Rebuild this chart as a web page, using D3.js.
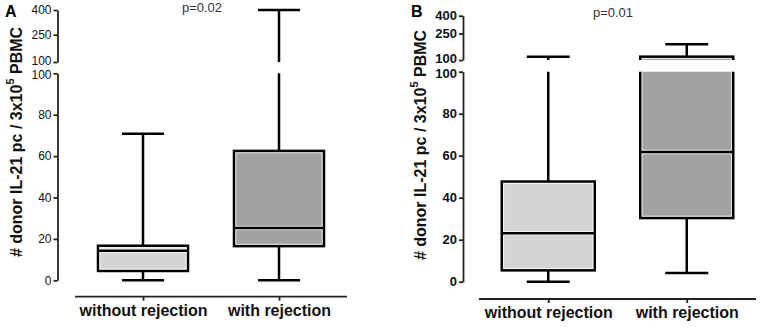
<!DOCTYPE html>
<html>
<head>
<meta charset="utf-8">
<script src="https://cdn.jsdelivr.net/npm/d3@7"></script>
<style>
  body { margin: 0; background: #fff; }
  svg { display: block; font-family: Arial, "Liberation Sans", sans-serif; }
</style>
</head>
<body>
<div id="chart"></div>
<script>
// ---- data ----
var categories = ['without rejection', 'with rejection'];
var panelLetters = ['A', 'B'];
var pLabels = ['p=0.02', 'p=0.01'];
var lowerTicks = [0, 20, 40, 60, 80, 100];
var upperTicks = [100, 250, 400];

// panel A
var minA = [0, 0];
var q1A = [4.5, 16.5];
var medianA = [14.3, 25.3];
var q3A = [16.7, 62.5];
var maxA = [70.8, 400];

// panel B
var minB = [0, 4.2];
var q1B = [5.4, 30.3];
var medianB = [23.1, 61.8];
var q3B = [47.7, 119];
var maxB = [119, 189];

var boxColors = ['#d4d4d4', '#a2a2a2'];

// layout of each panel (pixels)
var panels = [
  { letter: panelLetters[0], p: pLabels[0], min: minA, q1: q1A, med: medianA, q3: q3A, max: maxA,
    axisX: 57.5, lowerRange: [280.3, 73.3], upperRange: [62, 34.7, 10], xRange: [75, 347], xAxisY: 296.7,
    letterPos: [5, 17], pPos: [202, 12], titleX: 15.5, titleY: 142,
    tickFont: { size: 12, weight: 'normal' }, boxHalf: 45, capHalf: 21 },
  { letter: panelLetters[1], p: pLabels[1], min: minB, q1: q1B, med: medianB, q3: q3B, max: maxB,
    axisX: 463, lowerRange: [281.7, 71.7], upperRange: [60, 33.5, 15.7], xRange: [479, 756], xAxisY: 299,
    letterPos: [411, 17], pPos: [613, 17], titleX: 420, titleY: 145,
    tickFont: { size: 13, weight: 'bold' }, boxHalf: 46.5, capHalf: 21.5 }
];

var attrs = {
  svgWidth: 760,
  svgHeight: 327,
  strokeWidth: 2.5,
  axisStroke: 1.8,
  textColor: '#111'
};

var svg = d3.select('#chart').append('svg')
  .attr('width', attrs.svgWidth)
  .attr('height', attrs.svgHeight);

var defs = svg.append('defs');

panels.forEach(function (cfg, pi) {
  var g = svg.append('g').attr('class', 'panel panel-' + pi);

  // scales: broken y axis, lower [0,100] and upper [100,400]
  var yLow = d3.scaleLinear().domain([0, 100]).range(cfg.lowerRange);
  var yUp = d3.scaleLinear().domain(upperTicks).range(cfg.upperRange);
  var x = d3.scalePoint().domain(categories).range(cfg.xRange).padding(0.5);

  var rows = categories.map(function (c, i) {
    return { cat: c, min: cfg.min[i], q1: cfg.q1[i], med: cfg.med[i], q3: cfg.q3[i], max: cfg.max[i], color: boxColors[i] };
  });

  // clip paths for each segment
  var segs = [
    { name: 'low', y: yLow, clipTop: cfg.lowerRange[1], clipBottom: attrs.svgHeight },
    { name: 'up', y: yUp, clipTop: 0, clipBottom: cfg.upperRange[0] }
  ];

  segs.forEach(function (s) {
    var id = 'clip-' + pi + '-' + s.name;
    defs.append('clipPath').attr('id', id)
      .append('rect')
      .attr('x', cfg.xRange[0]).attr('width', cfg.xRange[1] - cfg.xRange[0])
      .attr('y', s.clipTop).attr('height', s.clipBottom - s.clipTop);

    var sg = g.append('g').attr('clip-path', 'url(#' + id + ')');
    var y = s.y;

    var box = sg.selectAll('g.box').data(rows).enter().append('g').attr('class', 'box');

    // whiskers
    box.append('line')
      .attr('x1', function (d) { return x(d.cat); }).attr('x2', function (d) { return x(d.cat); })
      .attr('y1', function (d) { return y(d.min); }).attr('y2', function (d) { return y(d.q1); })
      .attr('stroke', '#000').attr('stroke-width', attrs.strokeWidth);
    box.append('line')
      .attr('x1', function (d) { return x(d.cat); }).attr('x2', function (d) { return x(d.cat); })
      .attr('y1', function (d) { return y(d.q3); }).attr('y2', function (d) { return y(d.max); })
      .attr('stroke', '#000').attr('stroke-width', attrs.strokeWidth);

    // caps
    ['min', 'max'].forEach(function (k) {
      box.append('line')
        .attr('x1', function (d) { return x(d.cat) - cfg.capHalf; })
        .attr('x2', function (d) { return x(d.cat) + cfg.capHalf; })
        .attr('y1', function (d) { return y(d[k]); }).attr('y2', function (d) { return y(d[k]); })
        .attr('stroke', '#000').attr('stroke-width', attrs.strokeWidth);
    });

    // box body
    box.append('rect')
      .attr('x', function (d) { return x(d.cat) - cfg.boxHalf; })
      .attr('width', cfg.boxHalf * 2)
      .attr('y', function (d) { return y(d.q3); })
      .attr('height', function (d) { return y(d.q1) - y(d.q3); })
      .attr('fill', function (d) { return d.color; })
      .attr('stroke', '#000').attr('stroke-width', attrs.strokeWidth);
    // thin light inner edge
    box.append('rect')
      .attr('x', function (d) { return x(d.cat) - cfg.boxHalf + 1.9; })
      .attr('width', cfg.boxHalf * 2 - 3.8)
      .attr('y', function (d) { return y(d.q3) + 1.9; })
      .attr('height', function (d) { return Math.max(0, y(d.q1) - y(d.q3) - 3.8); })
      .attr('fill', 'none')
      .attr('stroke', '#fff').attr('stroke-opacity', 0.75).attr('stroke-width', 1);

    // median
    box.append('line')
      .attr('x1', function (d) { return x(d.cat) - cfg.boxHalf + 1.5; })
      .attr('x2', function (d) { return x(d.cat) + cfg.boxHalf - 1.5; })
      .attr('y1', function (d) { return y(d.med); }).attr('y2', function (d) { return y(d.med); })
      .attr('stroke', '#fff').attr('stroke-opacity', 0.75).attr('stroke-width', 4.5);
    box.append('line')
      .attr('x1', function (d) { return x(d.cat) - cfg.boxHalf; })
      .attr('x2', function (d) { return x(d.cat) + cfg.boxHalf; })
      .attr('y1', function (d) { return y(d.med); }).attr('y2', function (d) { return y(d.med); })
      .attr('stroke', '#000').attr('stroke-width', attrs.strokeWidth);
  });

  // ---- axes ----
  function styleAxis(sel, font) {
    sel.select('.domain').attr('stroke', '#222').attr('stroke-width', attrs.axisStroke);
    sel.selectAll('.tick line').attr('stroke', '#222').attr('stroke-width', attrs.axisStroke);
    sel.selectAll('.tick text')
      .attr('fill', attrs.textColor)
      .style('font-size', font.size + 'px')
      .style('font-weight', font.weight)
      .style('font-family', 'Arial, "Liberation Sans", sans-serif');
  }

  var axLow = g.append('g').attr('transform', 'translate(' + cfg.axisX + ',0)')
    .call(d3.axisLeft(yLow).tickValues(lowerTicks).tickSize(4).tickSizeOuter(0).tickPadding(2));
  styleAxis(axLow, cfg.tickFont);
  // the two "100" labels sit close at the break: push them a little apart
  axLow.selectAll('.tick text').filter(function (d) { return d === 100; }).attr('dy', '0.42em');

  var axUp = g.append('g').attr('transform', 'translate(' + cfg.axisX + ',0)')
    .call(d3.axisLeft(yUp).tickValues(upperTicks).tickSize(4).tickSizeOuter(0).tickPadding(2));
  styleAxis(axUp, cfg.tickFont);
  axUp.selectAll('.tick text').filter(function (d) { return d === 100; }).attr('dy', '0.22em');

  var axX = g.append('g').attr('transform', 'translate(0,' + cfg.xAxisY + ')')
    .call(d3.axisBottom(x).tickSize(4).tickSizeOuter(0).tickPadding(4));
  axX.select('.domain').attr('d', 'M' + cfg.xRange[0] + ',0H' + cfg.xRange[1]);
  styleAxis(axX, { size: 16, weight: 'bold' });

  // y title
  var title = g.append('text')
    .attr('transform', 'translate(' + cfg.titleX + ',' + cfg.titleY + ') rotate(-90)')
    .attr('text-anchor', 'middle')
    .attr('dominant-baseline', 'central')
    .attr('fill', attrs.textColor)
    .style('font-size', '16px').style('font-weight', 'bold');
  title.append('tspan').text('# donor IL-21 pc / 3x10');
  title.append('tspan').attr('baseline-shift', 'super').style('font-size', '11px').text('5');
  title.append('tspan').text(' PBMC');

  // panel letter
  g.append('text')
    .attr('x', cfg.letterPos[0]).attr('y', cfg.letterPos[1])
    .attr('fill', '#000')
    .style('font-size', '16px').style('font-weight', 'bold')
    .text(cfg.letter);

  // p value
  g.append('text')
    .attr('x', cfg.pPos[0]).attr('y', cfg.pPos[1])
    .attr('text-anchor', 'middle')
    .attr('fill', '#333')
    .style('font-size', '13px')
    .text(cfg.p);
});
</script>
</body>
</html>
